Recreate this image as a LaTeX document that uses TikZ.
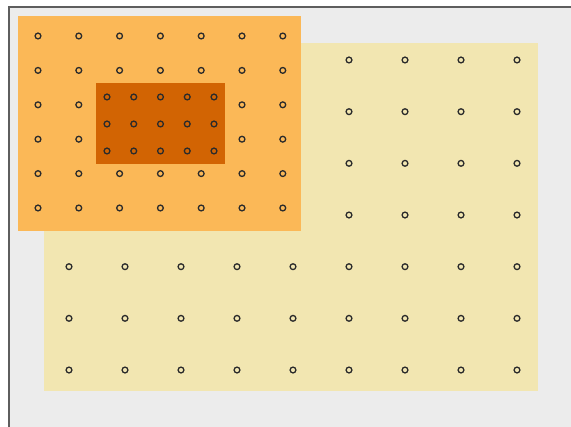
\documentclass[tikz,border=0pt]{standalone}
\definecolor{bggray}{HTML}{ECECEC}
\definecolor{edgegray}{HTML}{5E5E5E}
\definecolor{paleyellow}{HTML}{F2E6B1}
\definecolor{midorange}{HTML}{FBB857}
\definecolor{darkorange}{HTML}{D26403}
\definecolor{dotline}{HTML}{2B2B2B}
\tikzset{
  dot/.style={draw=dotline, line width=1.3pt},
  region/.style={draw=none}
}
\begin{document}
\begin{tikzpicture}[x=1pt,y=-1pt]
\useasboundingbox (0,0) rectangle (571,427);
% background
\fill[bggray] (9,7) rectangle (571,427);
\draw[edgegray, line width=2.5pt] (9,427) -- (9,7) -- (571,7);
% yellow region
\fill[paleyellow] (44,43) rectangle (537.5,391);
\foreach \i in {0,...,6} {
  \foreach \j in {0,...,8} {
    \draw[dot] ({69+56*\j},{60+51.67*\i}) circle (2.9);
  }
}
% orange region
\fill[midorange] (18,16) rectangle (301,231);
\foreach \i in {0,...,5} {
  \foreach \j in {0,...,6} {
    \draw[dot] ({38+40.8*\j},{36+34.4*\i}) circle (2.9);
  }
}
% dark orange region
\fill[darkorange] (96,83) rectangle (225,164);
\foreach \i in {0,...,2} {
  \foreach \j in {0,...,4} {
    \draw[dot] ({107+26.75*\j},{97+27*\i}) circle (2.9);
  }
}
\end{tikzpicture}
\end{document}
